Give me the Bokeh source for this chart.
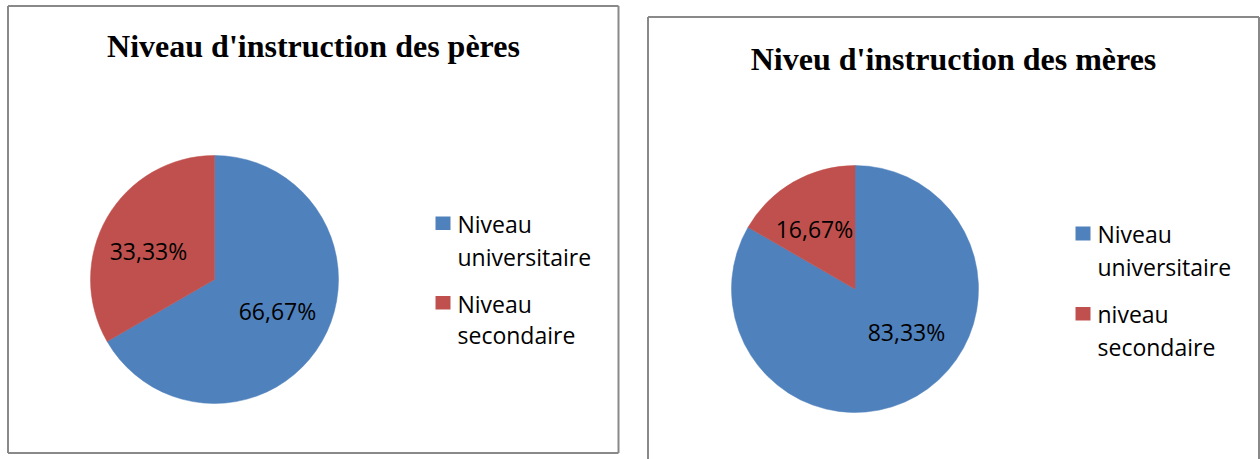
import math
from bokeh.plotting import figure
from bokeh.models import Range1d, ColumnDataSource
from bokeh.core.properties import value
from bokeh.embed import file_html
from bokeh.resources import INLINE

# ---------------- data ----------------
titles = ["Niveau d'instruction des pères", "Niveu d'instruction des mères"]
categories_peres = ["Niveau universitaire", "Niveau secondaire"]
values_peres = [66.67, 33.33]
categories_meres = ["Niveau universitaire", "niveau secondaire"]
values_meres = [83.33, 16.67]
colors = ["#4F81BD", "#C0504D"]

# ---------------- layout (image pixel coordinates) ----------------
W, H = 1260, 459
p = figure(width=W, height=H, x_range=Range1d(0, W), y_range=Range1d(0, H),
           output_backend="svg", toolbar_location=None, min_border=0)
p.axis.visible = False
p.grid.visible = False
p.outline_line_color = None
p.background_fill_color = "white"
p.border_fill_color = "white"


def Y(img_y):
    return H - img_y


panels = [
    dict(title=titles[0], cats=categories_peres, vals=values_peres,
         box=(7.5, 618, 5.5, 452.5), sides=("l", "t", "r", "b"),
         title_xy=(313, 45), center=(214, 279), r=124,
         label_xy=[(277, 310), (148, 250)],
         leg_sq_x=(435, 450), leg_sq_y=[(216, 229.5), (295.5, 309)],
         leg_text_x=457, leg_mid=[(223.5, 256), (303, 334.5)]),
    dict(title=titles[1], cats=categories_meres, vals=values_meres,
         box=(647.5, 1258.5, 16.5, 470), sides=("l", "t", "r"),
         title_xy=(953, 58), center=(854.5, 288.5), r=123.5,
         label_xy=[(906, 331), (814, 228)],
         leg_sq_x=(1075, 1090), leg_sq_y=[(226, 240), (306.5, 320)],
         leg_text_x=1097, leg_mid=[(233, 266), (313, 346)]),
]

border_color = "#898989"

for pn in panels:
    x0, x1, y0, y1 = pn["box"]
    xs, ys = [], []
    if "l" in pn["sides"]:
        xs.append([x0, x0]); ys.append([Y(y0), Y(y1)])
    if "t" in pn["sides"]:
        xs.append([x0, x1]); ys.append([Y(y0), Y(y0)])
    if "r" in pn["sides"]:
        xs.append([x1, x1]); ys.append([Y(y0), Y(y1)])
    if "b" in pn["sides"]:
        xs.append([x0, x1]); ys.append([Y(y1), Y(y1)])
    p.multi_line(xs=xs, ys=ys, line_color=border_color, line_width=2)

    # title
    tx, ty = pn["title_xy"]
    p.text(x=[tx], y=[Y(ty)], text=[pn["title"]], text_align="center",
           text_baseline="middle", text_font=value("Liberation Serif"),
           text_font_style="bold", text_font_size=value("32px"), text_color="black")

    # pie
    vals = pn["vals"]
    total = sum(vals)
    starts, ends = [], []
    cum = 0.0
    for v in vals:
        starts.append(math.pi / 2 - 2 * math.pi * cum / total)
        cum += v
        ends.append(math.pi / 2 - 2 * math.pi * cum / total)
    cx, cy = pn["center"]
    src = ColumnDataSource(dict(x=[cx] * len(vals), y=[Y(cy)] * len(vals),
                                start=starts, end=ends, color=colors[:len(vals)]))
    p.wedge(x="x", y="y", radius=pn["r"], start_angle="start", end_angle="end",
            direction="clock", fill_color="color", line_color="color", line_width=0.5,
            source=src)

    # data labels
    labels = [("%.2f%%" % v).replace(".", ",") for v in vals]
    p.text(x=[xy[0] for xy in pn["label_xy"]], y=[Y(xy[1]) for xy in pn["label_xy"]],
           text=labels, text_align="center", text_baseline="middle",
           text_font=value("Open Sans"), text_font_size=value("23px"), text_color="black")

    # legend
    sx0, sx1 = pn["leg_sq_x"]
    p.quad(left=[sx0] * len(vals), right=[sx1] * len(vals),
           top=[Y(a) for a, b in pn["leg_sq_y"]], bottom=[Y(b) for a, b in pn["leg_sq_y"]],
           fill_color=colors[:len(vals)], line_color=None)
    lx, ly, lt = [], [], []
    for cat, (m1, m2) in zip(pn["cats"], pn["leg_mid"]):
        w1, w2 = cat.split(" ", 1)
        lx += [pn["leg_text_x"], pn["leg_text_x"]]
        ly += [Y(m1), Y(m2)]
        lt += [w1, w2]
    p.text(x=lx, y=ly, text=lt, text_align="left", text_baseline="middle",
           text_font=value("Open Sans"), text_font_size=value("23px"), text_color="black")

open("out.html", "w").write(file_html(p, INLINE))
